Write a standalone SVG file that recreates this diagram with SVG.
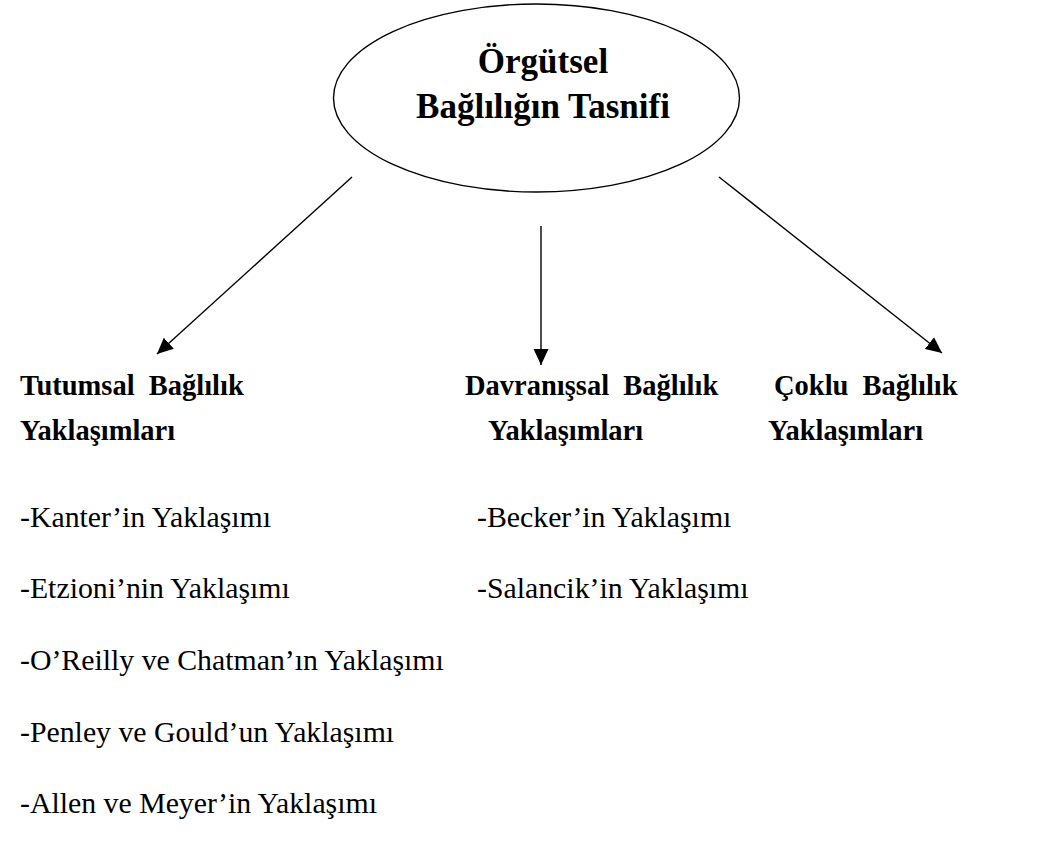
<svg xmlns="http://www.w3.org/2000/svg" width="1051" height="844" viewBox="0 0 1051 844">
<style>
.t{font-family:"Liberation Serif","Times New Roman",serif;fill:#000}
.b{font-weight:bold;font-size:28.5px}
.w{word-spacing:7px}
.r{font-size:29.8px}
.h{font-weight:bold;font-size:35px}
.c{stroke:#000;stroke-width:1.4;fill:none}
</style>
<defs>
<marker id="ah" markerUnits="userSpaceOnUse" markerWidth="17" markerHeight="16" refX="16" refY="7.5" orient="auto" viewBox="0 0 17 15">
<path d="M0,0 L16,7.5 L0,15 Z" fill="#000"/>
</marker>
</defs>
<rect width="1051" height="844" fill="#fff"/>
<g id="root">
<ellipse cx="536.5" cy="98" rx="203" ry="94" fill="#fff" stroke="#000" stroke-width="1.4"/>
<text class="t h" x="543" y="73" text-anchor="middle">Örgütsel</text>
<text class="t h" x="543" y="118" text-anchor="middle">Bağlılığın Tasnifi</text>
</g>
<g id="connectors">
<line class="c" x1="352" y1="177" x2="157" y2="354" marker-end="url(#ah)"/>
<line class="c" x1="541" y1="226" x2="541" y2="365" marker-end="url(#ah)"/>
<line class="c" x1="719" y1="177" x2="942" y2="353" marker-end="url(#ah)"/>
</g>
<g id="tutumsal">
<text class="t b w" x="20" y="395">Tutumsal Bağlılık</text>
<text class="t b" x="20" y="440">Yaklaşımları</text>
<text class="t r" x="20" y="527">-Kanter’in Yaklaşımı</text>
<text class="t r" x="20" y="598">-Etzioni’nin Yaklaşımı</text>
<text class="t r" x="20" y="670">-O’Reilly ve Chatman’ın Yaklaşımı</text>
<text class="t r" x="20" y="742">-Penley ve Gould’un Yaklaşımı</text>
<text class="t r" x="20" y="813">-Allen ve Meyer’in Yaklaşımı</text>
</g>
<g id="davranissal">
<text class="t b w" x="465" y="395">Davranışsal Bağlılık</text>
<text class="t b" x="488" y="440">Yaklaşımları</text>
<text class="t r" x="477" y="527">-Becker’in Yaklaşımı</text>
<text class="t r" x="477" y="598">-Salancik’in Yaklaşımı</text>
</g>
<g id="coklu">
<text class="t b w" x="774" y="395">Çoklu Bağlılık</text>
<text class="t b" x="768" y="440">Yaklaşımları</text>
</g>
</svg>
